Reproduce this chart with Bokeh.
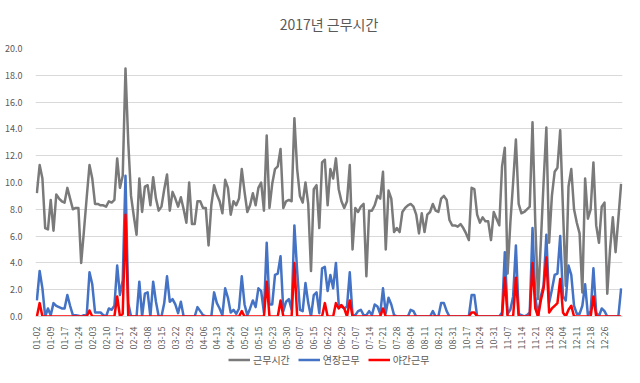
import math
from bokeh.plotting import figure
from bokeh.layouts import column
from bokeh.models import FixedTicker, NumeralTickFormatter, Legend, LegendItem, Range1d, ColumnDataSource
from bokeh.embed import file_html
from bokeh.resources import INLINE

# ---- data ----
tick_labels = ["01-02", "01-09", "01-17", "01-24", "02-03", "02-10", "02-17", "02-24",
               "03-08", "03-15", "03-22", "03-29", "04-06", "04-13", "04-24", "05-02",
               "05-15", "05-23", "05-30", "06-07", "06-15", "06-22", "06-29", "07-07",
               "07-14", "07-21", "07-28", "08-04", "08-11", "08-21", "08-31", "10-17",
               "10-24", "10-31", "11-07", "11-14", "11-21", "11-28", "12-04", "12-11",
               "12-18", "12-26"]
label_step = 5

work_hours = [  # 근무시간
    9.2, 11.3, 10.3, 6.6, 6.5, 8.7, 6.4, 9.1, 8.8, 8.6,
    8.5, 9.6, 8.8, 8.0, 8.1, 8.1, 4.0, 6.4, 8.9, 11.3,
    10.3, 8.4, 8.4, 8.3, 8.3, 8.2, 8.6, 8.5, 8.7, 11.8,
    9.6, 10.5, 18.5, 13.0, 9.0, 7.5, 6.1, 10.3, 7.8, 9.7,
    9.8, 8.3, 10.4, 8.8, 7.9, 8.2, 9.5, 10.6, 7.9, 9.3,
    8.8, 8.2, 8.9, 8.0, 7.0, 10.0, 6.9, 6.9, 8.6, 8.6,
    8.1, 8.1, 5.3, 8.3, 9.8, 9.1, 8.6, 7.7, 10.2, 9.6,
    7.6, 8.6, 8.3, 8.8, 11.0, 9.3, 7.8, 8.3, 9.2, 8.3,
    9.6, 10.0, 7.9, 13.5, 8.1, 9.9, 11.0, 11.2, 12.5, 8.1,
    8.6, 8.7, 8.6, 14.8, 11.0, 9.0, 8.5, 10.0, 8.4, 3.4,
    9.5, 9.8, 6.6, 11.5, 11.7, 8.3, 11.0, 10.3, 11.8, 9.5,
    8.6, 8.1, 8.6, 11.3, 5.0, 8.1, 7.8, 8.2, 8.4, 3.0,
    7.9, 7.9, 8.3, 9.0, 8.8, 10.8, 5.0, 9.4, 8.8, 6.3,
    6.6, 6.3, 7.8, 8.1, 8.3, 8.4, 8.2, 7.6, 6.2, 7.7,
    6.3, 7.6, 7.8, 8.4, 7.9, 7.8, 8.8, 9.0, 8.7, 7.2,
    6.8, 6.8, 6.7, 6.9, 6.6, 6.2, 5.7, 9.6, 9.5, 7.6,
    7.0, 7.4, 7.1, 7.1, 5.7, 7.8, 7.3, 6.8, 11.2, 12.6,
    3.2, 7.0, 10.0, 13.2, 8.4, 7.7, 7.8, 8.0, 8.2, 14.5,
    7.0, 1.3, 5.5, 10.0, 14.1, 5.5, 9.0, 10.8, 11.1, 13.9,
    8.0, 2.3, 9.7, 11.0, 8.0, 7.0, 6.2, 1.8, 10.3, 7.3,
    8.0, 11.5, 6.8, 5.5, 8.2, 8.5, 1.7, 5.0, 7.4, 4.8,
    7.3, 9.9,
]

overtime = [  # 연장근무
    1.2, 3.4, 2.1, 0.0, 0.6, 0.1, 1.0, 0.8, 0.7, 0.6,
    0.6, 1.6, 0.8, 0.1, 0.1, 0.05, 0.0, 0.1, 0.1, 3.3,
    2.4, 0.3, 0.3, 0.3, 0.1, 0.0, 0.6, 0.5, 0.8, 3.8,
    1.6, 2.7, 10.5, 1.0, 0.0, 0.0, 0.0, 2.6, 0.0, 1.7,
    1.8, 0.0, 2.6, 1.1, 0.0, 0.0, 1.0, 3.0, 1.1, 1.3,
    0.9, 0.25, 1.1, 0.0, 0.0, 0.0, 0.0, 0.0, 0.7, 0.4,
    0.1, 0.0, 0.0, 0.0, 1.8, 1.0, 0.6, 0.1, 2.1, 1.4,
    0.3, 0.5, 0.2, 0.6, 3.0, 0.9, 0.1, 0.6, 1.2, 0.7,
    2.1, 1.9, 0.3, 5.5, 0.9, 0.9, 3.1, 3.2, 4.5, 0.4,
    1.1, 1.3, 0.5, 6.8, 3.4, 0.5, 0.4, 2.5, 1.0, 0.0,
    1.6, 1.8, 0.25, 3.6, 3.7, 1.9, 3.1, 2.1, 4.0, 0.9,
    0.75, 0.6, 0.75, 3.3, 0.1, 0.1, 0.4, 0.5, 0.1, 0.1,
    0.4, 0.1, 0.9, 0.75, 0.2, 2.1, 0.25, 1.4, 0.9, 0.1,
    0.0, 0.0, 0.0, 0.0, 0.0, 0.5, 0.4, 0.0, 0.0, 0.0,
    0.0, 0.0, 0.0, 0.4, 0.0, 0.0, 1.0, 1.0, 0.4, 0.0,
    0.0, 0.0, 0.0, 0.0, 0.0, 0.0, 0.0, 1.6, 1.6, 0.0,
    0.0, 0.0, 0.0, 0.0, 0.0, 0.0, 0.0, 0.0, 0.3, 4.8,
    0.2, 0.5, 1.5, 5.3, 0.2, 0.1, 0.0, 0.1, 0.3, 6.6,
    1.5, 0.0, 1.5, 2.3, 6.1, 1.0, 2.0, 3.1, 3.2, 6.0,
    1.5, 1.2, 3.8, 3.1, 0.8, 0.2, 0.2, 0.8, 2.4, 0.1,
    0.4, 3.6, 0.3, 0.0, 0.6, 0.4, 0.0, 0.0, 0.0, 0.0,
    0.0, 2.1,
]

night = [  # 야간근무
    0.0, 1.0, 0.0, 0.0, 0.0, 0.0, 0.0, 0.0, 0.0, 0.0,
    0.0, 0.0, 0.0, 0.0, 0.0, 0.0, 0.0, 0.0, 0.0, 0.45,
    0.0, 0.0, 0.0, 0.0, 0.0, 0.0, 0.0, 0.0, 0.0, 1.5,
    0.0, 0.2, 7.6, 0.0, 0.0, 0.0, 0.0, 0.0, 0.0, 0.0,
    0.0, 0.0, 0.0, 0.0, 0.0, 0.0, 0.0, 0.0, 0.0, 0.0,
    0.0, 0.0, 0.0, 0.0, 0.0, 0.0, 0.0, 0.0, 0.0, 0.0,
    0.0, 0.0, 0.0, 0.0, 0.0, 0.0, 0.0, 0.0, 0.0, 0.0,
    0.0, 0.0, 0.0, 0.0, 0.4, 0.0, 0.0, 0.0, 0.0, 0.0,
    0.0, 0.0, 0.0, 2.6, 0.0, 0.0, 0.0, 0.0, 1.2, 0.0,
    0.0, 0.0, 0.0, 4.0, 0.0, 0.0, 0.0, 0.0, 0.0, 0.0,
    0.0, 0.0, 0.0, 0.0, 1.0, 0.0, 0.0, 0.0, 1.0, 0.6,
    0.85, 0.6, 0.0, 1.2, 0.0, 0.0, 0.0, 0.0, 0.0, 0.0,
    0.0, 0.0, 0.0, 0.0, 0.0, 0.6, 0.0, 0.0, 0.0, 0.0,
    0.0, 0.0, 0.0, 0.0, 0.0, 0.0, 0.0, 0.0, 0.0, 0.0,
    0.0, 0.0, 0.0, 0.0, 0.0, 0.0, 0.0, 0.0, 0.0, 0.0,
    0.0, 0.0, 0.0, 0.0, 0.0, 0.0, 0.0, 0.3, 0.3, 0.0,
    0.0, 0.0, 0.0, 0.0, 0.0, 0.0, 0.0, 0.0, 0.0, 2.9,
    0.0, 0.0, 0.0, 2.9, 0.0, 0.0, 0.0, 0.0, 0.0, 4.0,
    0.6, 0.0, 1.2, 2.1, 4.4, 0.3, 0.6, 0.8, 1.0, 2.8,
    0.3, 0.0, 0.5, 0.8, 0.0, 0.0, 0.0, 0.0, 0.0, 0.0,
    0.0, 1.5, 0.0, 0.0, 0.0, 0.0, 0.0, 0.0, 0.0, 0.0,
    0.0, 0.0,
]

series_names = ["근무시간", "연장근무", "야간근무"]
series_colors = ["#7a7a7a", "#4472c4", "#ff0000"]
y_ticks = [0, 2, 4, 6, 8, 10, 12, 14, 16, 18, 20]

# ---- figure ----
n = len(work_hours)
idx = list(range(n))
src = ColumnDataSource(dict(x=idx, work=work_hours, over=overtime, night=night))

FONT = "Noto Sans CJK KR"
TXT = "#595959"
W = 624

p = figure(width=W, height=352, output_backend="svg", toolbar_location=None,
           x_range=Range1d(-0.5, n - 0.5), y_range=Range1d(0, 20),
           min_border_left=35, min_border_right=2, min_border_top=48, min_border_bottom=34)
p.outline_line_color = None
p.background_fill_color = "white"
p.border_fill_color = "white"

p.title.text = "2017년 근무시간"
p.title.align = "center"
p.title.vertical_align = "top"
p.title.text_font = FONT
p.title.text_font_size = "14px"
p.title.text_font_style = "normal"
p.title.text_color = TXT
p.title.standoff = 26

keys = ["work", "over", "night"]
for key, col in zip(keys, series_colors):
    p.line("x", key, source=src, line_color=col, line_width=2.5, line_join="round")

# y axis
p.yaxis.ticker = FixedTicker(ticks=y_ticks)
p.yaxis.formatter = NumeralTickFormatter(format="0.0")
p.yaxis.axis_line_color = None
p.yaxis.major_tick_line_color = None
p.yaxis.minor_tick_line_color = None
p.yaxis.major_label_text_font = FONT
p.yaxis.major_label_text_font_size = "9px"
p.yaxis.major_label_text_color = TXT
p.yaxis.major_label_standoff = 7

# x axis
tick_pos = [i * label_step for i in range(len(tick_labels))]
p.xaxis.ticker = FixedTicker(ticks=tick_pos)
p.xaxis.major_label_overrides = {t: lab for t, lab in zip(tick_pos, tick_labels)}
p.xaxis.major_label_orientation = math.pi / 2
p.xaxis.axis_line_color = "#d9d9d9"
p.xaxis.major_tick_line_color = None
p.xaxis.minor_tick_line_color = None
p.xaxis.major_label_text_font = FONT
p.xaxis.major_label_text_font_size = "9px"
p.xaxis.major_label_text_color = TXT
p.xaxis.major_label_standoff = 4

p.xgrid.visible = False
p.ygrid.grid_line_color = "#d9d9d9"
p.ygrid.grid_line_width = 1

# ---- legend strip: same series drawn outside its visible y range, only the key shows ----
lg = figure(width=W, height=15, output_backend="svg", toolbar_location=None,
            x_range=Range1d(-0.5, n - 0.5), y_range=Range1d(100, 101),
            x_axis_type=None, y_axis_type=None,
            min_border_left=0, min_border_right=0, min_border_top=0, min_border_bottom=0)
lg.outline_line_color = None
lg.grid.visible = False
items = []
for name, key, col in zip(series_names, keys, series_colors):
    r = lg.line("x", key, source=src, line_color=col, line_width=2.5)
    items.append(LegendItem(label=name, renderers=[r]))
legend = Legend(items=items, orientation="horizontal", location=(193, 0),
                label_text_font=FONT, label_text_font_size="10px", label_text_color=TXT,
                glyph_width=22, glyph_height=13, label_height=13, label_standoff=3,
                spacing=8, padding=0, margin=0,
                border_line_color=None, background_fill_alpha=0)
lg.add_layout(legend, "center")

layout = column(p, lg, spacing=0)
open("out.html", "w").write(file_html(layout, INLINE))
